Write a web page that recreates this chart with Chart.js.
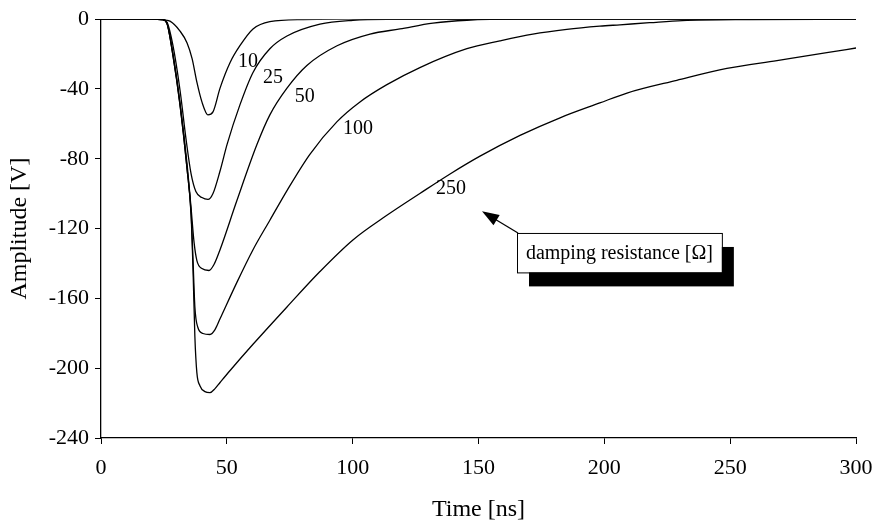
<!DOCTYPE html>
<html>
<head>
<meta charset="utf-8">
<script src="https://cdn.jsdelivr.net/npm/chart.js@4.4.1/dist/chart.umd.min.js"></script>
<style>
  html, body { margin: 0; padding: 0; background: #fff; }
  #wrap { width: 878px; height: 527px; }
</style>
</head>
<body>
<div id="wrap"><canvas id="chart-area" width="878" height="527"></canvas></div>
<script>
// damping resistance [Ohm] of each curve
var resistances = ['10', '25', '50', '100', '250'];

// time [ns] / amplitude [V]
var t10 = [0, 19.9, 24.6, 27.4, 31.4, 34.2, 36.2, 38.1, 40.1, 42.5, 44.5, 47.3, 51.3, 55.2, 60.4, 67.1, 80.3, 99, 300];
var v10 = [0, 0, -0.3, -1.1, -6.8, -13.6, -22.6, -36.1, -47.4, -54.8, -53.1, -39.5, -24.8, -15.2, -5.6, -1.4, -0.2, 0, 0];

var t25 = [0, 19.9, 24.6, 26.2, 28.6, 31.4, 33.8, 35.8, 37.7, 40.1, 42.5, 44.5, 47.3, 50.1, 55.2, 60.4, 67.1, 73.9, 87.0, 100.1, 113.6, 300];
var v25 = [0, 0, -0.3, -1.7, -15.2, -40.7, -68.9, -88.7, -98.8, -102.2, -103.3, -99.9, -87.0, -71.7, -49.1, -30.5, -16.9, -9.6, -2.8, -0.6, -0.1, 0];

var t50 = [0, 19.9, 24.6, 26.2, 28.6, 31.4, 34.2, 35.8, 37.0, 38.1, 40.1, 42.9, 44.9, 47.3, 54.0, 62.0, 67.1, 73.9, 81.8, 93.8, 106.9, 118.8, 131.9, 145.4, 166.5, 300];
var v50 = [0, 0, -0.3, -2.3, -19.8, -48.0, -83.0, -108.4, -128.2, -138.3, -142.9, -144.0, -140.6, -132.1, -103.9, -71.7, -54.8, -39.5, -26.5, -15.2, -8.5, -5.6, -2.3, -0.6, 0, 0];

var t100 = [0, 19.9, 24.6, 26.2, 28.6, 31.4, 34.2, 35.8, 36.6, 37.3, 38.5, 40.5, 43.3, 45.3, 47.3, 54.0, 60.4, 67.1, 73.9, 83.0, 93.8, 102.9, 113.6, 126.7, 145.4, 158.5, 171.6, 185.1, 198.2, 206.2, 218, 231, 258, 300];
var v100 = [0, 0, -0.3, -2.3, -20.9, -49.1, -85.8, -111.2, -139.5, -164.9, -176.7, -180.1, -180.7, -177.9, -171.7, -150.8, -132.1, -115.2, -98.2, -77.4, -58.7, -47.4, -37.5, -27.7, -16.9, -12.4, -8.5, -5.8, -4.0, -3.2, -2.0, -0.8, -0.2, 0];

var t250 = [0, 19.9, 24.6, 26.2, 28.6, 31.4, 34.2, 35.8, 36.6, 37.3, 38.1, 39.3, 41.3, 43.3, 45.3, 47.3, 51.3, 60.4, 73.9, 87.0, 100.1, 113.6, 126.7, 138.7, 150.6, 166.5, 182.4, 198.2, 209.0, 228.8, 248.7, 268.6, 288.4, 300];
var v250 = [0, 0, -0.3, -2.3, -20.9, -49.1, -85.8, -112.4, -145.1, -181.8, -202.7, -210.0, -213.4, -214.0, -211.7, -208.2, -201.3, -186.3, -164.9, -144.6, -126.5, -112.4, -99.9, -88.7, -78.5, -66.6, -56.5, -48.0, -42.3, -35.0, -28.2, -23.7, -19.2, -16.5];

// where each curve's resistance is written (data units)
var labelT = [58.4, 68.3, 81.0, 102.1, 139.1];
var labelV = [-24.4, -33.4, -44.6, -62.7, -97.1];

// legend box and its arrow (data units)
var boxText = 'damping resistance [\u03A9]';
var boxT = [165.3, 246.7];
var boxV = [-122.5, -145.1];
var arrowT = [165.7, 151.4];
var arrowV = [-122.5, -110.1];

let toPoints = function (ts, vs) {
    return ts.map((t, i) => ({ x: t, y: vs[i] }));
};

var serif = '"Liberation Serif", "Times New Roman", serif';

var annotations = {
    id: 'annotations',
    afterDatasetsDraw: function (chart) {
        var ctx = chart.ctx;
        var xs = chart.scales.x, ys = chart.scales.y;
        ctx.save();
        ctx.fillStyle = '#000';
        ctx.font = '20px ' + serif;
        ctx.textAlign = 'center';
        ctx.textBaseline = 'middle';
        for (var i = 0; i < resistances.length; i++) {
            ctx.fillText(resistances[i], xs.getPixelForValue(labelT[i]), ys.getPixelForValue(labelV[i]));
        }

        // arrow
        var x0 = xs.getPixelForValue(arrowT[0]), y0 = ys.getPixelForValue(arrowV[0]);
        var x1 = xs.getPixelForValue(arrowT[1]), y1 = ys.getPixelForValue(arrowV[1]);
        var ang = Math.atan2(y1 - y0, x1 - x0);
        ctx.strokeStyle = '#000';
        ctx.lineWidth = 1.3;
        ctx.beginPath();
        ctx.moveTo(x0, y0);
        ctx.lineTo(x1 - 10 * Math.cos(ang), y1 - 10 * Math.sin(ang));
        ctx.stroke();
        ctx.beginPath();
        ctx.moveTo(x1, y1);
        ctx.lineTo(x1 - 17 * Math.cos(ang) + 6 * Math.sin(ang), y1 - 17 * Math.sin(ang) - 6 * Math.cos(ang));
        ctx.lineTo(x1 - 17 * Math.cos(ang) - 6 * Math.sin(ang), y1 - 17 * Math.sin(ang) + 6 * Math.cos(ang));
        ctx.closePath();
        ctx.fill();

        // box with drop shadow
        var bx = xs.getPixelForValue(boxT[0]), bx2 = xs.getPixelForValue(boxT[1]);
        var by = ys.getPixelForValue(boxV[0]), by2 = ys.getPixelForValue(boxV[1]);
        ctx.fillStyle = '#000';
        ctx.fillRect(bx + 12, by + 14, bx2 - bx, by2 - by);
        ctx.fillStyle = '#fff';
        ctx.fillRect(bx, by, bx2 - bx, by2 - by);
        ctx.lineWidth = 1;
        ctx.strokeRect(bx + 0.5, by + 0.5, bx2 - bx, by2 - by);
        ctx.fillStyle = '#000';
        ctx.font = '20px ' + serif;
        ctx.fillText(boxText, (bx + bx2) / 2, (by + by2) / 2 + 1);
        ctx.restore();
    }
};

let generateChart = function () {
    var ctx = document.getElementById('chart-area').getContext('2d');
    var series = [[t10, v10], [t25, v25], [t50, v50], [t100, v100], [t250, v250]];
    var config = {
        type: 'line',
        data: {
            datasets: series.map((s, i) => ({
                label: resistances[i],
                data: toPoints(s[0], s[1]),
                borderColor: '#000',
                borderWidth: 1.3,
                pointRadius: 0,
                fill: false,
                cubicInterpolationMode: 'monotone'
            }))
        },
        options: {
            responsive: false,
            animation: false,
            devicePixelRatio: 1,
            layout: { padding: { top: 13, right: 22, left: 0, bottom: 0 } },
            plugins: { legend: { display: false }, tooltip: { enabled: false } },
            scales: {
                x: {
                    type: 'linear',
                    min: 0, max: 300,
                    ticks: { stepSize: 50, color: '#000', padding: 11, maxRotation: 0, font: { family: serif, size: 22 } },
                    grid: { drawOnChartArea: false, drawTicks: true, tickLength: 6, color: '#000' },
                    border: { display: true, color: '#000', width: 1.3 },
                    title: { display: true, text: 'Time [ns]', color: '#000', padding: { bottom: 3 }, font: { family: serif, size: 24 } },
                    afterFit: function (scale) {
                        scale.height = 89;
                        scale.paddingLeft = 0;
                        scale.paddingRight = 0;
                    }
                },
                y: {
                    type: 'linear',
                    min: -240, max: 0,
                    ticks: { stepSize: 40, color: '#000', padding: 6, font: { family: serif, size: 22 } },
                    grid: { drawOnChartArea: false, drawTicks: true, tickLength: 6, color: '#000' },
                    border: { display: true, color: '#000', width: 1.3 },
                    title: { display: true, text: 'Amplitude [V]', color: '#000', padding: { top: 5 }, font: { family: serif, size: 24 } },
                    afterFit: function (scale) { scale.width = 101; }
                }
            }
        },
        plugins: [annotations]
    };
    window.myChart = new Chart(ctx, config);
};

generateChart();
</script>
</body>
</html>
